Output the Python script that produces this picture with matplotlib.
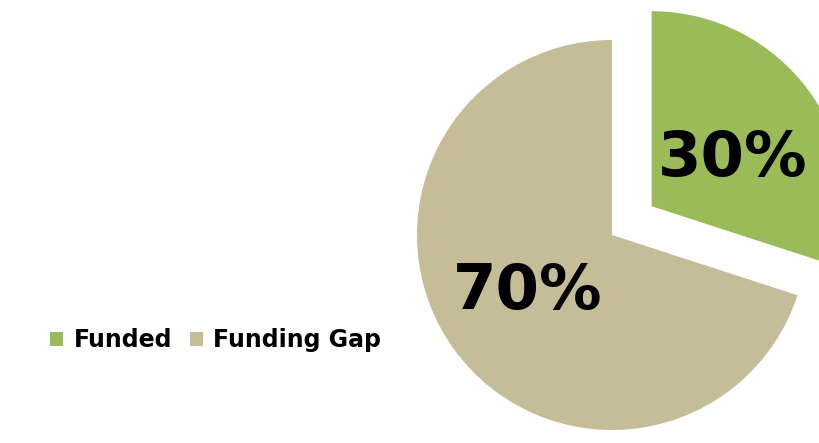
import matplotlib
matplotlib.use('Agg')
import matplotlib.pyplot as plt

labels = ['Funded', 'Funding Gap']
shares = [30, 70]
colors = ['#9BBB59', '#C4BD97']

fig = plt.figure(figsize=(8.19, 4.43), dpi=100)
ax = fig.add_axes([0, 0, 1, 1])

# radius and explode are in pixel units since the axes spans the figure 1:1
wedges, texts, autotexts = ax.pie(shares, colors=colors, startangle=90, counterclock=False,
                                  explode=[49, 0], radius=195, center=(612, 208),
                                  autopct='%d%%', pctdistance=0.5,
                                  wedgeprops={'linewidth': 0})
# small nudges so the labels sit where the original puts them
nudges = [(2, -10), (-5, 0)]
for t, (dx, dy) in zip(autotexts, nudges):
    x, y = t.get_position()
    t.set_position((x + dx, y + dy))
    t.set_fontsize(45)
    t.set_fontweight('bold')
    t.set_family('DejaVu Sans')
    t.set_color('black')

ax.set_xlim(0, 819)
ax.set_ylim(0, 443)
ax.set_aspect('equal')
ax.axis('off')

leg = fig.legend(wedges, labels, loc='center left', bbox_to_anchor=(50/819, 1 - 340/443),
                 ncol=2, frameon=False, borderpad=0, borderaxespad=0,
                 handlelength=0.55, handleheight=0.55,
                 handletextpad=0.45, columnspacing=0.75,
                 prop={'family': 'DejaVu Sans', 'weight': 'bold', 'size': 17})

fig.savefig('out.png', dpi=100)
